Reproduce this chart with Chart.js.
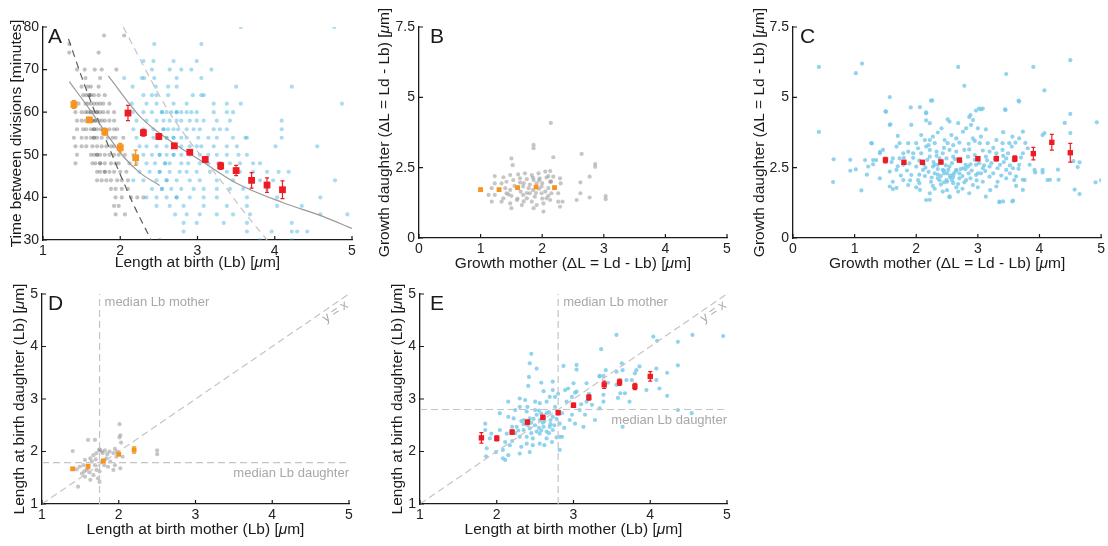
<!DOCTYPE html>
<html>
<head>
<meta charset="utf-8">
<script src="https://cdn.jsdelivr.net/npm/chart.js@4.4.1/dist/chart.umd.min.js"></script>
<style>
  body { margin: 0; background: #fff; }
  #fig { position: relative; width: 1108px; height: 546px; }
  canvas { position: absolute; }
</style>
</head>
<body>
<div id="fig">
  <canvas id="cA" width="370" height="275" style="left:0;top:0"></canvas>
  <canvas id="cB" width="370" height="275" style="left:370px;top:0"></canvas>
  <canvas id="cC" width="368" height="275" style="left:740px;top:0"></canvas>
  <canvas id="cD" width="370" height="271" style="left:0;top:275px"></canvas>
  <canvas id="cE" width="370" height="271" style="left:370px;top:275px"></canvas>
</div>
<script>
"use strict";

const FONT = '"Liberation Sans", Arial, Helvetica, sans-serif';

// tick values
const ticksLb = [1, 2, 3, 4, 5];
const ticksTime = [30, 40, 50, 60, 70, 80];
const ticksGrowthX = [0, 1, 2, 3, 4, 5];
const ticksGrowthY = [0, 2.5, 5, 7.5];

// ---- panel A: time between divisions vs length at birth (rows = minutes) ----
const aGrayRows = [
  [78, [1.79, 2.05]],
  [76, [1.34]],
  [74, [1.34, 1.72]],
  [70, [1.44, 1.54, 1.67, 1.76, 1.95]],
  [68, [1.55, 1.74]],
  [66, [1.50, 1.58, 1.62, 1.72]],
  [64, [1.52, 1.56, 1.60, 1.60, 1.62, 1.66, 1.72, 1.80]],
  [62, [1.46, 1.55, 1.58, 1.62, 1.66, 1.70, 1.74, 1.78, 1.86]],
  [60, [1.42, 1.50, 1.55, 1.58, 1.62, 1.62, 1.66, 1.70, 1.70, 1.74, 1.78, 1.84, 1.92]],
  [58, [1.44, 1.50, 1.55, 1.60, 1.64, 1.64, 1.68, 1.68, 1.72, 1.76, 1.80, 1.86, 1.92]],
  [56, [1.44, 1.52, 1.56, 1.62, 1.66, 1.66, 1.70, 1.75, 1.80, 1.86, 1.92, 1.96]],
  [54, [1.40, 1.50, 1.56, 1.62, 1.66, 1.66, 1.70, 1.76, 1.84, 1.90, 1.94, 2.04]],
  [52, [1.42, 1.50, 1.56, 1.64, 1.70, 1.76, 1.82, 1.88, 1.92]],
  [50, [1.44, 1.62, 1.66, 1.70, 1.70, 1.74, 1.80, 1.86, 1.92, 1.98, 2.06]],
  [48, [1.42, 1.64, 1.68, 1.74, 1.74, 1.80, 1.88, 1.94, 1.98, 2.12]],
  [46, [1.70, 1.74, 1.80, 1.80, 1.86, 1.92, 2.00, 2.08]],
  [44, [1.70, 1.76, 1.82, 1.88, 1.96, 2.02, 2.10]],
  [42, [1.88, 1.94, 2.02, 2.10]],
  [40, [1.94, 2.02, 2.14, 2.22, 2.30]],
  [38, [1.92, 1.98]],
  [36, [1.94, 2.06]],
  [30, [2.51]]
];
const aBlueRows = [
  [80, [3.56, 4.77]],
  [76, [2.44, 3.05]],
  [72, [2.30, 2.43, 2.69, 2.99]],
  [70, [2.41, 2.64, 2.79, 2.92, 3.18]],
  [68, [2.05, 2.28, 2.31, 2.44, 2.73, 3.05]],
  [66, [2.16, 2.46, 2.62, 2.73, 3.50, 4.22]],
  [64, [2.30, 2.41, 2.47, 2.62, 2.94, 3.05, 3.08]],
  [62, [2.15, 2.34, 2.47, 2.69, 2.86, 3.21, 3.38, 3.56, 4.87]],
  [60, [2.16, 2.30, 2.41, 2.54, 2.54, 2.60, 2.66, 2.73, 2.73, 2.79, 2.86, 2.92, 2.99, 3.21, 3.38, 3.46]],
  [58, [2.21, 2.34, 2.47, 2.56, 2.64, 2.73, 2.79, 2.90, 2.99, 3.08, 3.25, 3.42, 4.09]],
  [56, [2.17, 2.30, 2.43, 2.56, 2.56, 2.62, 2.69, 2.75, 2.86, 2.95, 3.03, 3.21, 3.29, 3.38, 4.09]],
  [54, [2.21, 2.43, 2.60, 2.60, 2.69, 2.69, 2.79, 2.86, 3.01, 3.14, 3.25, 3.46, 3.62, 3.64, 4.09]],
  [52, [2.25, 2.34, 2.47, 2.60, 2.69, 2.79, 2.90, 2.99, 3.05, 3.21, 3.38, 3.51, 4.01, 4.55]],
  [50, [2.17, 2.30, 2.41, 2.51, 2.51, 2.60, 2.69, 2.69, 2.79, 2.90, 3.03, 3.14, 3.25, 3.38, 3.53, 3.64]],
  [48, [2.21, 2.34, 2.45, 2.58, 2.58, 2.64, 2.79, 2.88, 3.03, 3.14, 3.27, 3.42, 3.55, 3.72, 3.81]],
  [46, [2.25, 2.38, 2.51, 2.51, 2.64, 2.77, 2.86, 2.99, 3.16, 3.38, 3.55, 3.72, 3.90, 4.05, 4.18]],
  [44, [2.17, 2.30, 2.47, 2.60, 2.60, 2.73, 2.90, 3.03, 3.25, 3.46, 3.81, 3.98, 4.78]],
  [42, [2.41, 2.54, 2.54, 2.66, 2.79, 2.95, 3.08, 3.25, 3.42, 3.59, 3.90]],
  [40, [2.34, 2.47, 2.60, 2.73, 2.73, 2.90, 3.08, 3.25, 3.64, 4.03, 4.59]],
  [38, [2.47, 2.64, 2.82, 3.08, 3.38, 3.64, 4.03, 4.35]],
  [36, [2.71, 2.86, 3.03, 3.25, 3.46, 3.68, 4.59, 4.94]],
  [34, [2.82, 2.99, 3.34, 3.64, 4.22]],
  [32, [2.82, 3.64, 3.96, 4.22, 4.29, 4.42]],
  [30, [3.81, 4.22]]
];
const aOrangeLb = [1.4, 1.6, 1.8, 2.0, 2.2];
const aOrangeTime = [61.8, 58.2, 55.4, 51.7, 49.3];
const aOrangeErr = [0.9, 0.6, 0.8, 1.0, 1.8];
const aRedLb = [2.1, 2.3, 2.5, 2.7, 2.9, 3.1, 3.3, 3.5, 3.7, 3.9, 4.1];
const aRedTime = [59.8, 55.2, 54.3, 52.1, 50.6, 48.9, 47.4, 46.3, 44.0, 42.9, 41.8];
const aRedErr = [1.8, 0.8, 0.7, 0.6, 0.5, 0.6, 0.8, 1.2, 1.8, 1.7, 2.1];
// curves
const aFitGray = [[1.34, 67.2], [1.61, 60.5], [1.82, 55.0], [2.04, 49.6], [2.26, 45.7], [2.51, 42.8]];
const aFitBlue = [[1.845, 68.5], [2.26, 58.9], [2.69, 52.7], [3.03, 48.8], [3.5, 43.4], [4.1, 38.8], [4.63, 35.5], [5.0, 32.7]];
const aBoundGray = [[1.33, 77.2], [1.52, 67.3], [1.76, 56.0], [2.0, 45.4], [2.19, 37.6], [2.40, 30.0]];
const aBoundBlue = [[2.04, 80], [2.4, 67.5], [2.6, 61.0], [2.9, 53.1], [3.16, 47.2], [3.33, 43.3], [3.55, 37.8], [3.9, 30]];

// ---- panel B: growth daughter vs growth mother (gray) ----
const bGray = [
  [1.23, 2.20], [1.37, 2.16], [1.48, 2.24], [1.61, 2.26], [1.72, 2.30], [1.83, 2.24], [1.94, 2.30], [2.05, 2.36],
  [2.13, 2.38], [1.23, 1.94], [1.34, 1.94], [1.42, 2.00], [1.53, 2.06], [1.64, 2.12], [1.75, 2.09], [1.86, 2.06],
  [1.96, 2.12], [2.07, 2.15], [2.18, 2.18], [2.29, 2.12], [1.18, 1.77], [1.40, 1.77], [1.48, 1.71], [1.69, 1.83],
  [1.78, 1.77], [1.99, 1.83], [2.10, 1.77], [2.30, 1.94], [1.13, 1.53], [1.23, 1.53], [1.42, 1.59], [1.50, 1.50],
  [1.69, 1.53], [1.80, 1.59], [1.88, 1.47], [1.99, 1.59], [2.15, 1.59], [2.26, 1.59], [1.18, 1.29], [1.34, 1.29],
  [1.48, 1.23], [1.59, 1.35], [1.67, 1.17], [1.83, 1.29], [1.91, 1.17], [2.02, 1.23], [2.13, 1.35], [2.26, 1.29],
  [1.50, 1.06], [1.86, 1.06], [2.02, 0.94], [2.29, 1.11], [1.37, 1.41], [1.75, 1.41], [2.07, 1.41], [1.64, 1.97],
  [1.91, 1.94], [2.13, 2.00], [2.14, 2.00], [2.14, 2.01],
  [1.55, 1.85], [1.65, 1.65], [1.70, 1.95], [1.80, 1.90], [1.85, 1.70], [1.90, 1.60], [1.95, 1.75], [2.00, 1.95],
  [2.05, 1.65], [1.60, 1.40], [1.75, 1.60], [1.45, 1.55], [2.10, 2.20], [1.95, 2.05], [1.85, 2.15], [1.70, 1.30],
  [2.00, 1.40], [2.10, 1.50],
  [2.14, 4.09], [1.86, 3.31], [1.86, 3.19], [1.50, 2.83], [1.52, 2.59], [2.18, 2.87], [2.64, 2.99], [2.86, 2.63],
  [2.86, 2.53], [2.77, 2.18], [2.62, 1.98], [2.62, 1.59], [2.56, 1.35], [2.77, 1.44], [3.03, 1.49], [3.03, 1.38],
  [2.33, 1.29]
];
const bOrangeDL = [1.0, 1.3, 1.6, 1.9, 2.2];
const bOrangeVal = [1.72, 1.72, 1.79, 1.81, 1.79];
const bOrangeErr = [0.04, 0.04, 0.04, 0.05, 0.05];

// ---- panel C: growth daughter vs growth mother (blue) ----
const cBlue = [
  [2.24, 4.88], [2.06, 4.65], [1.51, 4.49], [2.16, 4.43], [3.05, 4.57], [2.97, 4.53], [2.88, 4.37], [3.67, 4.85],
  [3.45, 4.55], [2.51, 4.22], [2.54, 4.14], [2.22, 4.08], [1.92, 4.02], [1.57, 4.02], [2.68, 4.08], [2.92, 4.19],
  [2.89, 4.02], [2.81, 3.90], [3.00, 3.90], [2.41, 3.90], [2.57, 3.66], [2.76, 3.78], [3.13, 3.86], [3.41, 3.76],
  [3.73, 3.78], [3.67, 3.54], [3.56, 3.60], [4.05, 3.66], [1.70, 3.63], [2.08, 3.66], [2.14, 3.48], [2.22, 3.48],
  [2.27, 3.60], [2.35, 3.75], [2.30, 3.37], [2.16, 3.25], [2.46, 3.48], [2.51, 3.37], [2.65, 3.54], [2.70, 3.39],
  [2.92, 3.54], [3.05, 3.60], [3.03, 3.37], [3.16, 3.37], [3.30, 3.48], [3.40, 3.37], [3.51, 3.37], [3.61, 3.39],
  [2.00, 3.37], [1.87, 3.37], [1.73, 3.37], [1.68, 3.25], [1.27, 3.37], [1.46, 3.13], [2.03, 3.19], [1.87, 3.07],
  [1.79, 3.01], [1.95, 3.01], [2.08, 3.01], [2.22, 3.13], [2.33, 3.07], [2.43, 3.01], [2.54, 3.13], [2.65, 3.07],
  [2.78, 3.13], [2.86, 3.15], [2.95, 2.95], [3.08, 3.11], [3.19, 3.07], [3.30, 3.01], [3.40, 3.13], [3.49, 3.01],
  [3.73, 3.01], [3.81, 3.19], [1.41, 3.01], [1.17, 2.77], [1.30, 2.77], [1.62, 2.83], [1.73, 2.83], [2.22, 2.89],
  [2.38, 2.83], [2.49, 2.83], [2.60, 2.89], [2.84, 2.89], [3.13, 2.89], [3.41, 2.92], [3.46, 2.83], [1.22, 2.54],
  [1.35, 2.77], [1.57, 2.36], [1.68, 2.42], [1.79, 2.60], [1.89, 2.65], [2.00, 2.54], [2.11, 2.42], [2.27, 2.54],
  [2.35, 2.60], [2.43, 2.42], [2.54, 2.54], [2.65, 2.42], [2.76, 2.48], [2.84, 2.54], [2.97, 2.60], [3.08, 2.48],
  [3.19, 2.54], [3.32, 2.48], [3.46, 2.42], [3.57, 2.48], [3.67, 2.60], [3.84, 2.60], [3.92, 2.42], [4.05, 2.42],
  [1.41, 2.12], [1.62, 2.00], [1.79, 2.06], [1.92, 2.24], [2.03, 2.06], [2.14, 2.20], [2.24, 2.00], [2.35, 2.12],
  [2.49, 2.06], [2.60, 2.16], [2.70, 2.12], [2.81, 2.06], [2.97, 2.24], [3.08, 2.00], [3.19, 2.18], [3.32, 2.00],
  [3.46, 2.12], [3.59, 2.06], [3.76, 2.06], [4.13, 2.06], [1.57, 1.83], [1.87, 1.88], [2.00, 1.80], [2.27, 1.85],
  [2.65, 1.80], [2.92, 1.88], [3.30, 1.83], [3.62, 1.85], [1.62, 1.74], [2.06, 1.71], [2.22, 1.59], [2.54, 1.45],
  [2.68, 1.65], [2.86, 1.59], [3.13, 1.47], [3.35, 1.29], [3.57, 1.33], [3.73, 1.71], [2.16, 1.35], [2.43, 1.65],
  [2.30, 2.30], [2.40, 2.20], [2.50, 2.30], [2.60, 2.25], [2.70, 2.30], [2.55, 2.15], [2.45, 2.40], [2.35, 2.45],
  [2.65, 2.40], [2.75, 2.20], [2.20, 2.35], [2.85, 2.30], [2.50, 2.00], [2.60, 1.95], [2.90, 2.40], [2.40, 1.90],
  [2.30, 2.60], [2.80, 2.60], [2.15, 2.50], [3.00, 2.30],
  [1.95, 2.85], [2.05, 2.75], [2.12, 2.62], [2.18, 2.78], [2.28, 2.70], [2.33, 2.92], [2.42, 2.68], [2.48, 2.58],
  [2.58, 2.66], [2.63, 2.80], [2.72, 2.72], [2.80, 2.45], [2.88, 2.62], [2.95, 2.78], [3.02, 2.66], [3.10, 2.58],
  [3.15, 2.76], [3.22, 2.66], [3.28, 2.82], [3.36, 2.60], [3.42, 2.70], [3.52, 2.58], [3.58, 2.75], [3.66, 2.46],
  [3.70, 2.86], [1.85, 2.40], [1.75, 2.22], [1.90, 2.05], [2.05, 2.25], [2.25, 2.15], [2.38, 2.05], [2.45, 1.98],
  [2.58, 2.05], [2.68, 1.92], [2.78, 1.98], [2.88, 2.12], [2.98, 2.05], [3.05, 2.30], [3.12, 2.38], [3.25, 2.30],
  [3.38, 2.22], [3.52, 2.30], [2.30, 1.75], [2.50, 1.70], [2.75, 1.75], [3.00, 1.80], [3.20, 1.70], [2.05, 1.95],
  [1.70, 2.55], [1.60, 2.70], [2.45, 3.20], [2.60, 3.30], [2.85, 3.35], [3.25, 3.20], [2.20, 3.30], [2.95, 3.45],
  [3.55, 3.25], [1.80, 2.85], [2.35, 2.25], [2.52, 2.42], [2.62, 2.32], [2.72, 2.45], [2.45, 2.30], [2.55, 2.22],
  [0.42, 6.08], [0.42, 3.77], [0.66, 2.80], [0.65, 1.99], [0.93, 2.78], [0.93, 2.39], [1.02, 2.44], [1.02, 5.86],
  [1.12, 6.20], [1.11, 1.69], [1.20, 2.25], [1.28, 3.36], [1.30, 2.62], [1.41, 3.06], [1.50, 4.50], [1.57, 5.01],
  [1.58, 4.04], [1.91, 4.64], [2.16, 4.47], [2.26, 4.89], [2.16, 4.18], [2.68, 6.08], [2.78, 5.41], [3.46, 5.83],
  [3.90, 6.08], [4.50, 6.32], [4.08, 5.25], [3.66, 4.88], [3.44, 4.57], [3.02, 4.60], [3.08, 4.60], [2.86, 4.30],
  [4.50, 4.41], [4.41, 4.09], [4.93, 4.11], [4.08, 3.73], [4.50, 3.73], [4.55, 2.73], [4.65, 2.69], [4.62, 2.52],
  [4.57, 1.72], [4.65, 1.56], [4.91, 1.98], [5.00, 2.05], [4.31, 2.07], [4.30, 2.43], [4.17, 2.07], [4.05, 2.33],
  [3.93, 2.33], [3.73, 2.07], [3.77, 3.38], [3.62, 2.19], [3.41, 1.30], [3.56, 1.30], [3.35, 1.27], [2.54, 1.48],
  [2.22, 1.36], [1.68, 1.78]
];
const cRedDL = [1.5, 1.8, 2.1, 2.4, 2.7, 3.0, 3.3, 3.6, 3.9, 4.2, 4.5];
const cRedVal = [2.77, 2.69, 2.69, 2.70, 2.77, 2.82, 2.82, 2.82, 3.00, 3.40, 3.03];
const cRedErr = [0.10, 0.06, 0.06, 0.06, 0.06, 0.07, 0.08, 0.10, 0.22, 0.28, 0.33];

// ---- panel D: Lb daughter vs Lb mother (gray) ----
const dGray = [
  [2.01, 2.52], [2.02, 2.31], [2.01, 2.27], [2.03, 2.17], [1.60, 2.22], [1.69, 2.22], [1.40, 2.01], [1.75, 2.03],
  [1.75, 2.03], [1.75, 2.04], [1.71, 1.97], [1.79, 1.97], [1.93, 1.97], [1.97, 1.90], [2.50, 2.02], [2.50, 1.95],
  [1.56, 1.84], [1.65, 1.81], [1.54, 1.74], [1.60, 1.68], [1.49, 1.71], [1.69, 1.74], [1.71, 1.65], [1.67, 1.55],
  [1.75, 1.62], [1.73, 1.49], [1.75, 1.42], [1.52, 1.58], [1.56, 1.52], [1.63, 1.46], [1.47, 1.33], [1.58, 1.65],
  [1.84, 1.87], [1.89, 1.81], [1.95, 1.74], [2.02, 1.68], [1.93, 1.65], [1.81, 1.74], [1.86, 1.71], [1.67, 1.93],
  [1.63, 1.87], [1.78, 2.00], [1.82, 2.02], [1.88, 2.00], [1.95, 2.05], [2.05, 1.90], [1.55, 1.62], [1.62, 1.60],
  [1.70, 1.85], [1.77, 1.80], [1.45, 1.66], [1.85, 1.95], [1.98, 2.00]
];
const dOrangeLb = [1.4, 1.6, 1.8, 2.0, 2.2];
const dOrangeVal = [1.67, 1.72, 1.82, 1.95, 2.03];
const dOrangeErr = [0.02, 0.02, 0.03, 0.03, 0.06];
const dMedianMother = 1.75;
const dMedianDaughter = 1.79;

// ---- panel E: Lb daughter vs Lb mother (blue) ----
const eBlue = [
  [3.56, 4.22], [3.36, 3.95], [2.45, 3.86], [2.43, 3.68], [2.52, 3.58], [2.87, 3.63], [3.04, 3.65], [3.04, 3.56],
  [3.63, 3.68], [3.42, 3.55], [3.56, 3.52], [3.64, 3.55], [3.34, 3.44], [3.39, 3.44], [3.80, 3.49], [3.45, 3.31],
  [3.61, 3.11], [3.67, 3.11], [3.58, 3.02], [3.76, 3.36], [2.42, 3.42], [2.58, 3.31], [2.73, 3.33], [2.73, 3.17],
  [2.61, 3.15], [2.41, 3.25], [2.89, 3.17], [3.00, 3.30], [3.04, 3.14], [2.98, 3.04], [3.17, 2.95], [3.24, 2.89],
  [3.34, 2.82], [3.08, 2.79], [2.98, 2.70], [3.15, 2.70], [3.28, 2.60], [3.02, 2.53], [3.13, 2.47], [3.64, 2.47],
  [2.82, 2.53], [2.69, 2.47], [2.85, 2.28], [2.78, 2.27], [2.65, 2.25], [2.82, 2.03], [2.56, 2.15], [2.47, 2.12],
  [2.32, 2.09], [2.43, 1.99], [2.30, 1.96], [2.17, 2.12], [2.08, 2.03], [2.08, 1.87], [2.15, 1.93], [1.99, 1.99],
  [2.11, 2.18], [2.04, 2.41], [1.85, 2.53], [1.85, 2.41], [1.91, 2.25], [2.04, 2.73], [2.22, 2.63], [2.30, 2.85],
  [2.37, 2.98], [2.39, 2.76], [2.50, 2.79], [2.56, 2.92], [2.65, 2.95], [2.69, 3.04], [2.76, 3.04], [2.80, 3.10],
  [2.35, 2.60], [2.43, 2.63], [2.52, 2.70], [2.56, 2.60], [2.65, 2.73], [2.73, 2.66], [2.26, 2.47], [2.35, 2.41],
  [2.43, 2.44], [2.52, 2.38], [2.61, 2.47], [2.65, 2.38], [2.73, 2.41], [2.24, 2.35], [2.30, 2.28], [2.39, 2.28],
  [2.47, 2.25], [2.56, 2.34], [2.39, 2.15], [2.76, 2.85], [2.85, 2.73], [2.91, 2.95], [2.93, 3.20], [2.30, 3.01],
  [2.15, 2.95], [2.24, 2.79], [2.15, 2.66], [1.93, 2.34], [1.87, 2.06], [2.13, 2.34], [2.20, 2.47],
  [2.50, 2.50], [2.60, 2.55], [2.70, 2.60], [2.45, 2.55], [2.55, 2.45], [2.62, 2.65], [2.75, 2.50], [2.68, 2.35],
  [2.40, 2.50], [2.58, 2.72],
  [2.35, 2.52], [2.48, 2.62], [2.62, 2.58], [2.70, 2.52], [2.58, 2.40], [2.45, 2.35], [2.32, 2.58], [2.55, 2.78],
  [2.68, 2.75], [2.78, 2.62], [2.88, 2.45], [2.95, 2.60], [2.20, 2.20], [2.28, 2.40], [2.62, 2.12], [2.72, 2.18],
  [2.50, 2.95], [2.40, 2.85], [3.10, 2.90], [3.20, 3.10],
  [4.04, 4.19], [4.09, 4.11], [4.36, 4.09], [4.55, 4.22], [4.95, 4.20], [4.36, 3.64], [4.22, 3.50], [4.08, 3.58],
  [4.22, 3.06], [4.36, 2.79], [4.54, 2.73], [1.86, 1.91], [2.11, 1.84], [3.39, 3.08], [3.39, 2.95], [3.73, 2.95],
  [3.56, 3.27], [3.69, 3.36], [3.95, 3.17], [3.82, 3.55], [3.86, 3.62], [4.08, 3.36], [3.34, 3.43], [3.17, 3.30],
  [3.02, 3.12], [4.12, 3.20], [2.82, 2.28]
];
const eRedLb = [1.8, 2.0, 2.2, 2.4, 2.6, 2.8, 3.0, 3.2, 3.4, 3.6, 3.8, 4.0];
const eRedVal = [2.26, 2.25, 2.37, 2.56, 2.65, 2.74, 2.88, 3.03, 3.27, 3.32, 3.24, 3.43];
const eRedErr = [0.10, 0.05, 0.04, 0.04, 0.04, 0.04, 0.04, 0.05, 0.07, 0.06, 0.06, 0.09];
const eMedianMother = 2.8;
const eMedianDaughter = 2.8;

// colours
const ORANGE = "rgb(247,148,29)";
const RED = "rgb(237,28,36)";

//helpers to build datasets
function rowsToPoints(rows) {
  let pts = [];
  rows.forEach(r => r[1].forEach(x => pts.push({ x: x, y: r[0] })));
  return pts;
}
function pairsToPoints(pairs) {
  return pairs.map(p => ({ x: p[0], y: p[1] }));
}
function dots(points, color, r) {
  return { data: points, pointRadius: r, pointBackgroundColor: color, pointBorderWidth: 0, order: 3 };
}
function means(xs, ys, errs, color, r) {
  return {
    data: xs.map((x, i) => ({ x: x, y: ys[i] })),
    errs: errs,
    pointStyle: "rect", pointRadius: r, pointBackgroundColor: color, pointBorderWidth: 0, order: 1
  };
}
function curve(pairs, color, dash, smooth) {
  return {
    data: pairsToPoints(pairs), showLine: true, pointRadius: 0,
    borderColor: color, borderWidth: 1.2, borderDash: dash,
    cubicInterpolationMode: smooth ? "monotone" : "default", tension: 0, order: 2
  };
}

// text decoration per panel
const deco = {
  cA: {
    letter: "A", lx: 48, ly: 43, yTitleX: 17, xTitleY: 263,
    yTitle: [["Time between divisions [minutes]", false]],
    xTitle: [["Length at birth (Lb) [", false], ["\u03bc", true], ["m]", false]]
  },
  cB: {
    letter: "B", lx: 60, ly: 43, yTitleX: 15, xTitleY: 264,
    yTitle: [["Growth daughter (\u0394L = Ld - Lb) [", false], ["\u03bc", true], ["m]", false]],
    xTitle: [["Growth mother (\u0394L = Ld - Lb) [", false], ["\u03bc", true], ["m]", false]]
  },
  cC: {
    letter: "C", lx: 60, ly: 43, yTitleX: 20, xTitleY: 264,
    yTitle: [["Growth daughter (\u0394L = Ld - Lb) [", false], ["\u03bc", true], ["m]", false]],
    xTitle: [["Growth mother (\u0394L = Ld - Lb) [", false], ["\u03bc", true], ["m]", false]]
  },
  cD: {
    letter: "D", lx: 48, ly: 35, yTitleX: 20, xTitleY: 255,
    yTitle: [["Length at birth daughter (Lb) [", false], ["\u03bc", true], ["m]", false]],
    xTitle: [["Length at birth mother (Lb) [", false], ["\u03bc", true], ["m]", false]],
    medianMother: dMedianMother, medianDaughter: dMedianDaughter
  },
  cE: {
    letter: "E", lx: 60, ly: 35, yTitleX: 28, xTitleY: 255,
    yTitle: [["Length at birth daughter (Lb) [", false], ["\u03bc", true], ["m]", false]],
    xTitle: [["Length at birth mother (Lb) [", false], ["\u03bc", true], ["m]", false]],
    medianMother: eMedianMother, medianDaughter: eMedianDaughter
  }
};

function drawRich(ctx, parts, cx, cy, angle, size) {
  ctx.save();
  ctx.translate(cx, cy);
  ctx.rotate(angle);
  ctx.textBaseline = "middle";
  ctx.textAlign = "left";
  let total = 0;
  parts.forEach(p => {
    ctx.font = (p[1] ? "italic " : "") + size + "px " + FONT;
    total += ctx.measureText(p[0]).width;
  });
  let x = -total / 2;
  parts.forEach(p => {
    ctx.font = (p[1] ? "italic " : "") + size + "px " + FONT;
    ctx.fillText(p[0], x, 0);
    x += ctx.measureText(p[0]).width;
  });
  ctx.restore();
}

const decoPlugin = {
  id: "deco",
  afterDatasetsDraw(chart) {
    const ctx = chart.ctx, xs = chart.scales.x, ys = chart.scales.y;
    chart.data.datasets.forEach(ds => {
      if (!ds.errs) return;
      ctx.save();
      ctx.strokeStyle = ds.pointBackgroundColor;
      ctx.lineWidth = 1.2;
      ds.data.forEach((p, i) => {
        const e = ds.errs[i];
        const px = xs.getPixelForValue(p.x);
        const top = ys.getPixelForValue(p.y + e), bot = ys.getPixelForValue(p.y - e);
        ctx.beginPath();
        ctx.moveTo(px, top); ctx.lineTo(px, bot);
        ctx.moveTo(px - 2, top); ctx.lineTo(px + 2, top);
        ctx.moveTo(px - 2, bot); ctx.lineTo(px + 2, bot);
        ctx.stroke();
      });
      ctx.restore();
    });
  },
  afterDraw(chart) {
    const d = deco[chart.canvas.id];
    const ctx = chart.ctx, xs = chart.scales.x, ys = chart.scales.y, area = chart.chartArea;
    ctx.save();
    // inward tick marks
    ctx.strokeStyle = "#1a1a1a";
    ctx.lineWidth = 1.2;
    ctx.beginPath();
    xs.ticks.forEach(t => {
      const px = xs.getPixelForValue(t.value);
      ctx.moveTo(px, area.bottom); ctx.lineTo(px, area.bottom - 4);
    });
    ys.ticks.forEach(t => {
      const py = ys.getPixelForValue(t.value);
      ctx.moveTo(area.left, py); ctx.lineTo(area.left + 4, py);
    });
    ctx.stroke();

    // titles
    ctx.fillStyle = "#1a1a1a";
    drawRich(ctx, d.xTitle, (area.left + area.right) / 2, d.xTitleY, 0, 15.5);
    drawRich(ctx, d.yTitle, d.yTitleX, (area.top + area.bottom) / 2, -Math.PI / 2, 15.5);

    // panel letter
    ctx.font = "21px " + FONT;
    ctx.textAlign = "left";
    ctx.textBaseline = "alphabetic";
    ctx.fillText(d.letter, d.lx, d.ly);

    // median labels and y = x
    if (d.medianMother !== undefined) {
      ctx.font = "13px " + FONT;
      ctx.fillStyle = "#a8a8a8";
      ctx.textBaseline = "middle";
      ctx.textAlign = "left";
      ctx.fillText("median Lb mother", xs.getPixelForValue(d.medianMother) + 5, area.top + 8);
      ctx.textAlign = "right";
      ctx.fillText("median Lb daughter", area.right, ys.getPixelForValue(d.medianDaughter) + 11);
      const ang = Math.atan2(ys.getPixelForValue(5) - ys.getPixelForValue(1), xs.getPixelForValue(5) - xs.getPixelForValue(1));
      ctx.translate(xs.getPixelForValue(4.77), ys.getPixelForValue(4.77));
      ctx.rotate(ang);
      ctx.textAlign = "center";
      ctx.fillText("y = x", 0, 7);
    }
    ctx.restore();
  }
};

function axis(min, max, ticks, pad, fit, isX) {
  return {
    type: "linear", min: min, max: max,
    afterBuildTicks: s => { s.ticks = ticks.map(v => ({ value: v })); },
    afterFit: s => { if (isX) s.height = fit; else s.width = fit; },
    grid: { display: false, drawTicks: false },
    border: { display: true, color: "#1a1a1a", width: 1.3 },
    ticks: { color: "#222", font: { family: FONT, size: 14 }, padding: pad, maxRotation: 0, autoSkip: false }
  };
}

function panel(id, datasets, xr, yr, geo) {
  new Chart(document.getElementById(id), {
    type: "scatter",
    data: { datasets: datasets },
    options: {
      responsive: false, animation: false, devicePixelRatio: 1, events: [],
      layout: { padding: { top: geo.top, right: geo.right, left: 0, bottom: 0 } },
      plugins: { legend: { display: false }, tooltip: { enabled: false } },
      scales: {
        x: axis(xr[0], xr[1], xr[2], 3, geo.xh, true),
        y: axis(yr[0], yr[1], yr[2], 4, geo.yw, false)
      }
    },
    plugins: [decoPlugin]
  });
}

panel("cA", [
  means(aOrangeLb, aOrangeTime, aOrangeErr, ORANGE, 4.8),
  means(aRedLb, aRedTime, aRedErr, RED, 4.8),
  curve(aFitGray, "#9a9a9a", [], true),
  curve(aFitBlue, "#9a9a9a", [], true),
  curve(aBoundGray, "#5a5a5a", [7, 5], true),
  curve(aBoundBlue, "#c4c4c4", [7, 5], true),
  dots(rowsToPoints(aGrayRows), "rgba(70,70,70,0.33)", 2.1),
  dots(rowsToPoints(aBlueRows), "rgba(40,168,218,0.4)", 2.1)
], [1, 5, ticksLb], [30, 80, ticksTime], { top: 27, right: 18, yw: 43, xh: 35 });

panel("cB", [
  means(bOrangeDL, bOrangeVal, bOrangeErr, ORANGE, 3.4),
  dots(pairsToPoints(bGray), "rgba(160,160,160,0.6)", 2.1)
], [0, 5, ticksGrowthX], [0, 7.5, ticksGrowthY], { top: 27, right: 13, yw: 49, xh: 37 });

panel("cC", [
  means(cRedDL, cRedVal, cRedErr, RED, 3.8),
  dots(pairsToPoints(cBlue), "rgba(118,200,232,0.8)", 2.1)
], [0, 5, ticksGrowthX], [0, 7.5, ticksGrowthY], { top: 27, right: 6, yw: 53, xh: 37 });

panel("cD", [
  means(dOrangeLb, dOrangeVal, dOrangeErr, ORANGE, 3.4),
  curve([[dMedianMother, 1], [dMedianMother, 5]], "#c4c4c4", [7, 4], false),
  curve([[1, dMedianDaughter], [5, dMedianDaughter]], "#c4c4c4", [7, 4], false),
  curve([[1, 1], [5, 5]], "#c4c4c4", [7, 4], false),
  dots(pairsToPoints(dGray), "rgba(160,160,160,0.6)", 2.1)
], [1, 5, ticksLb], [1, 5, ticksLb], { top: 19, right: 21, yw: 42, xh: 42 });

panel("cE", [
  means(eRedLb, eRedVal, eRedErr, RED, 3.8),
  curve([[eMedianMother, 1], [eMedianMother, 5]], "#c4c4c4", [7, 4], false),
  curve([[1, eMedianDaughter], [5, eMedianDaughter]], "#c4c4c4", [7, 4], false),
  curve([[1, 1], [5, 5]], "#c4c4c4", [7, 4], false),
  dots(pairsToPoints(eBlue), "rgba(118,200,232,0.8)", 2.1)
], [1, 5, ticksLb], [1, 5, ticksLb], { top: 19, right: 13, yw: 50, xh: 42 });
</script>
</body>
</html>
